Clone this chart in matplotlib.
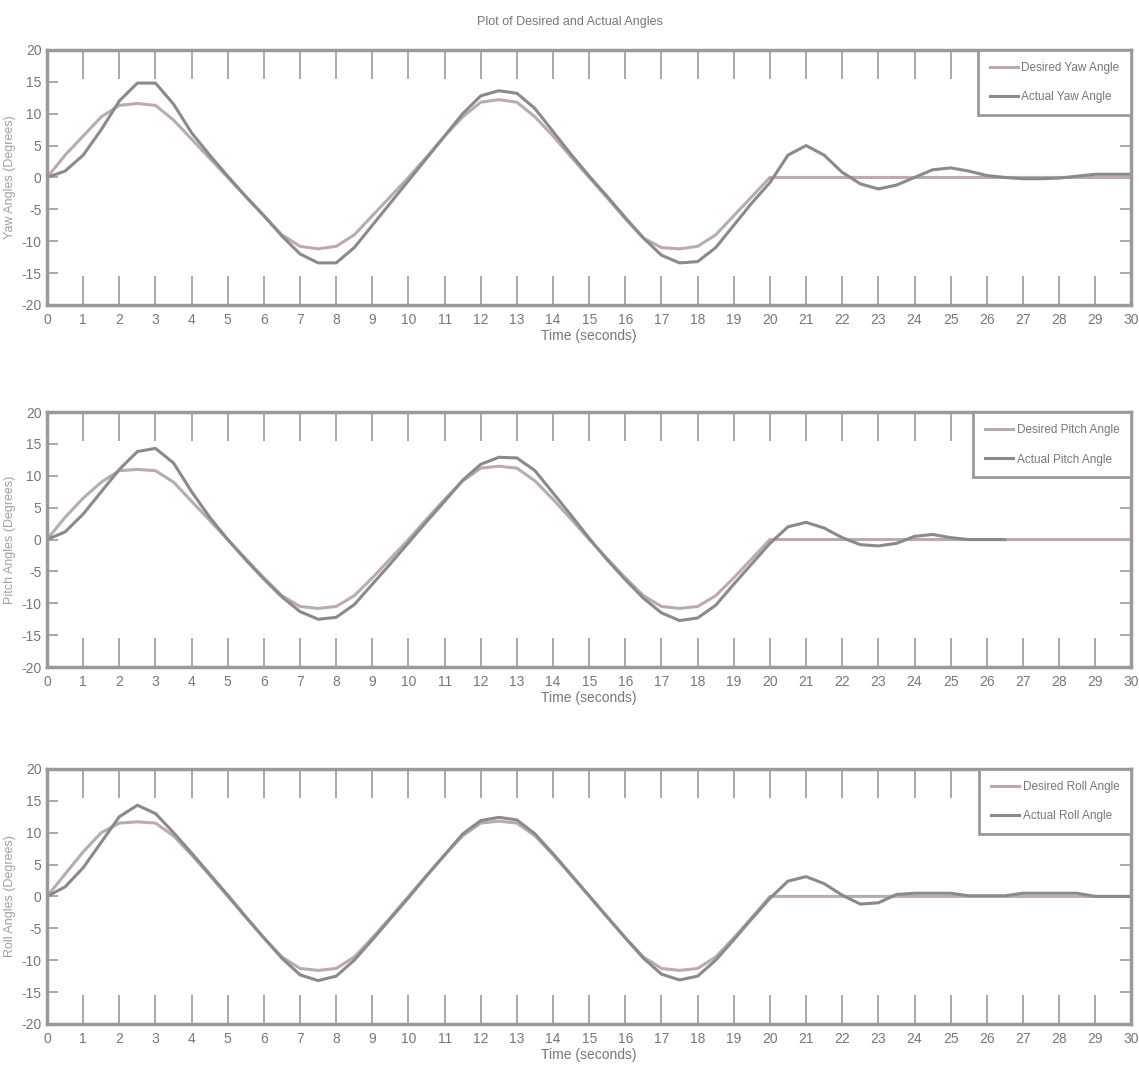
import numpy as np
import matplotlib
matplotlib.use("Agg")
import matplotlib.pyplot as plt

plt.rcParams['font.family'] = ['Liberation Sans', 'DejaVu Sans']
plt.rcParams['axes.unicode_minus'] = False

# time axis (seconds), one sample every half second
t = np.arange(0, 30.5, 0.5)

# yaw (degrees)
yaw_desired = [0, 3.5, 6.5, 9.5, 11.3, 11.6, 11.3, 9.0, 6.0, 3.0,
               0, -3.0, -6.0, -9.0, -10.8, -11.2, -10.8, -9.0, -6.0, -3.0,
               0, 3.2, 6.5, 9.5, 11.8, 12.2, 11.8, 9.5, 6.5, 3.2,
               0, -3.2, -6.5, -9.5, -11.0, -11.2, -10.8, -9.0, -6.0, -3.0,
               0, 0, 0, 0, 0, 0, 0, 0, 0, 0,
               0, 0, 0, 0, 0, 0, 0, 0, 0, 0, 0]
yaw_actual = [0, 1.0, 3.5, 7.5, 12.0, 14.8, 14.8, 11.5, 7.0, 3.5,
              0.2, -3.0, -6.0, -9.2, -12.0, -13.4, -13.4, -11.0, -7.5, -4.0,
              -0.5, 3.0, 6.5, 10.0, 12.8, 13.6, 13.2, 10.8, 7.2, 3.6,
              0.2, -3.0, -6.3, -9.5, -12.2, -13.4, -13.2, -11.0, -7.5, -4.0,
              -0.8, 3.5, 5.0, 3.5, 0.8, -1.0, -1.8, -1.2, 0.0, 1.2,
              1.5, 1.0, 0.3, 0.0, -0.2, -0.2, -0.1, 0.2, 0.5, 0.5, 0.5]

# pitch (degrees)
pitch_desired = [0, 3.5, 6.5, 9.0, 10.8, 11.0, 10.8, 9.0, 6.0, 3.0,
                 0, -3.0, -6.0, -8.8, -10.5, -10.8, -10.5, -8.8, -6.0, -3.0,
                 0, 3.2, 6.3, 9.2, 11.2, 11.5, 11.2, 9.2, 6.3, 3.2,
                 0, -3.0, -6.0, -8.8, -10.5, -10.8, -10.5, -8.8, -6.0, -3.0,
                 0, 0, 0, 0, 0, 0, 0, 0, 0, 0,
                 0, 0, 0, 0, 0, 0, 0, 0, 0, 0, 0]
pitch_actual = [0, 1.2, 4.0, 7.5, 11.0, 13.8, 14.3, 12.0, 7.5, 3.5,
                0, -3.2, -6.2, -9.0, -11.3, -12.5, -12.2, -10.2, -7.0, -3.8,
                -0.5, 2.8, 6.0, 9.3, 11.8, 12.9, 12.8, 10.8, 7.3, 3.8,
                0.2, -3.2, -6.3, -9.2, -11.5, -12.7, -12.3, -10.3, -7.0, -3.8,
                -0.6, 2.0, 2.7, 1.8, 0.3, -0.8, -1.0, -0.6, 0.5, 0.8,
                0.3, 0.0, 0.0, 0.0, np.nan, np.nan, np.nan, np.nan, np.nan, np.nan, np.nan]

# roll (degrees)
roll_desired = [0, 3.5, 7.0, 10.0, 11.5, 11.7, 11.5, 9.5, 6.5, 3.3,
                0, -3.3, -6.5, -9.5, -11.3, -11.6, -11.3, -9.5, -6.5, -3.3,
                0, 3.3, 6.5, 9.5, 11.5, 11.8, 11.5, 9.5, 6.5, 3.3,
                0, -3.3, -6.5, -9.5, -11.3, -11.6, -11.3, -9.5, -6.5, -3.3,
                0, 0, 0, 0, 0, 0, 0, 0, 0, 0,
                0, 0, 0, 0, 0, 0, 0, 0, 0, 0, 0]
roll_actual = [0, 1.5, 4.5, 8.5, 12.5, 14.3, 13.0, 10.0, 6.8, 3.5,
               0.2, -3.2, -6.5, -9.7, -12.3, -13.2, -12.5, -10.0, -6.8, -3.5,
               -0.2, 3.2, 6.5, 9.8, 11.9, 12.4, 12.0, 9.8, 6.7, 3.4,
               0.1, -3.2, -6.5, -9.7, -12.2, -13.1, -12.5, -10.0, -6.8, -3.5,
               -0.3, 2.4, 3.1, 2.0, 0.2, -1.2, -1.0, 0.3, 0.5, 0.5,
               0.5, 0.1, 0.1, 0.1, 0.5, 0.5, 0.5, 0.5, 0.0, 0.0, 0.0]

panels = [
    ("Yaw", yaw_desired, yaw_actual),
    ("Pitch", pitch_desired, pitch_actual),
    ("Roll", roll_desired, roll_actual),
]

c_frame = '#9a9a9a'
c_desired = '#bcaab3'
c_actual = '#8a8a8a'
c_text = '#777777'

fig = plt.figure(figsize=(11.39, 10.90), dpi=100)
bottoms = [0.7202, 0.388, 0.0606]

for (name, des, act), b in zip(panels, bottoms):
    ax = fig.add_axes([0.0413, b, 0.952, 0.234])
    ax.plot(t, des, color=c_desired, lw=2.2, label=f"Desired {name} Angle")
    ax.plot(t, act, color=c_actual, lw=2.2, label=f"Actual {name} Angle")
    ax.set_xlim(0, 30)
    ax.set_ylim(-20, 20)
    ax.set_xticks(range(0, 31))
    ax.set_yticks(range(-20, 21, 5))
    for s in ax.spines.values():
        s.set_color(c_frame)
        s.set_linewidth(2.5)
    ax.tick_params(axis='x', direction='in', length=21, width=1.2, color=c_frame,
                   top=True, labelsize=10, labelcolor=c_text, pad=6)
    ax.tick_params(axis='y', direction='in', length=8, width=1.2, color=c_frame,
                   right=True, labelsize=10, labelcolor=c_text, pad=4)
    ax.set_xlabel("Time (seconds)", fontsize=10, color=c_text, labelpad=1)
    ax.set_ylabel(f"{name} Angles (Degrees)", fontsize=9, color='#a0a0a0', labelpad=4)
    leg = ax.legend(loc='upper right', borderaxespad=0, fancybox=False,
                    fontsize=8.5, handlelength=2.4, handletextpad=0.3,
                    labelspacing=1.5, borderpad=1.0, framealpha=1)
    leg.get_frame().set_edgecolor(c_frame)
    leg.get_frame().set_linewidth(2.0)
    for txt in leg.get_texts():
        txt.set_color(c_text)

fig.text(0.5, 0.985, "Plot of Desired and Actual Angles", ha='center', va='top',
         fontsize=9, color=c_text)

fig.savefig("out.png", dpi=100)
